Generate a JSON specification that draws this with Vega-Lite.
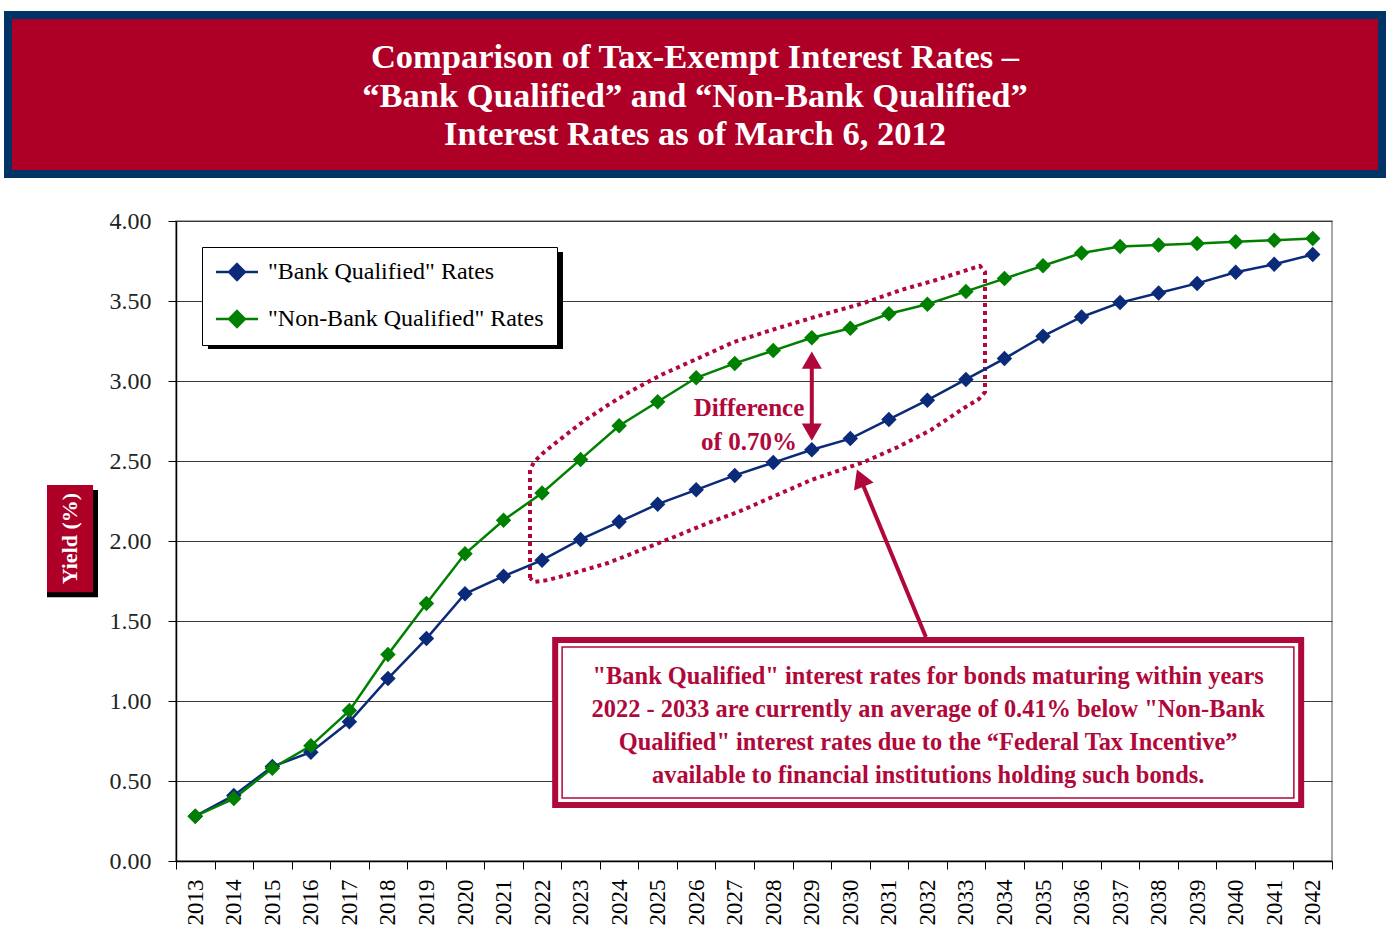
{
  "$schema": "https://vega.github.io/schema/vega-lite/v6.json",
  "background": "white",
  "padding": {"left": 4, "top": 11, "right": 0, "bottom": 0},
  "align": "each",
  "spacing": 30,
  "resolve": {"legend": {"color": "independent"}},
  "config": {"view": {"stroke": null}, "font": "Liberation Serif"},
  "datasets": {
    "rates": [
      {"year": 2013, "series": "\"Bank Qualified\" Rates", "value": 0.28},
      {"year": 2014, "series": "\"Bank Qualified\" Rates", "value": 0.41},
      {"year": 2015, "series": "\"Bank Qualified\" Rates", "value": 0.59},
      {"year": 2016, "series": "\"Bank Qualified\" Rates", "value": 0.68},
      {"year": 2017, "series": "\"Bank Qualified\" Rates", "value": 0.87},
      {"year": 2018, "series": "\"Bank Qualified\" Rates", "value": 1.14},
      {"year": 2019, "series": "\"Bank Qualified\" Rates", "value": 1.39},
      {"year": 2020, "series": "\"Bank Qualified\" Rates", "value": 1.67},
      {"year": 2021, "series": "\"Bank Qualified\" Rates", "value": 1.78},
      {"year": 2022, "series": "\"Bank Qualified\" Rates", "value": 1.88},
      {"year": 2023, "series": "\"Bank Qualified\" Rates", "value": 2.01},
      {"year": 2024, "series": "\"Bank Qualified\" Rates", "value": 2.12},
      {"year": 2025, "series": "\"Bank Qualified\" Rates", "value": 2.23},
      {"year": 2026, "series": "\"Bank Qualified\" Rates", "value": 2.32},
      {"year": 2027, "series": "\"Bank Qualified\" Rates", "value": 2.41},
      {"year": 2028, "series": "\"Bank Qualified\" Rates", "value": 2.49},
      {"year": 2029, "series": "\"Bank Qualified\" Rates", "value": 2.57},
      {"year": 2030, "series": "\"Bank Qualified\" Rates", "value": 2.64},
      {"year": 2031, "series": "\"Bank Qualified\" Rates", "value": 2.76},
      {"year": 2032, "series": "\"Bank Qualified\" Rates", "value": 2.88},
      {"year": 2033, "series": "\"Bank Qualified\" Rates", "value": 3.01},
      {"year": 2034, "series": "\"Bank Qualified\" Rates", "value": 3.14},
      {"year": 2035, "series": "\"Bank Qualified\" Rates", "value": 3.28},
      {"year": 2036, "series": "\"Bank Qualified\" Rates", "value": 3.40},
      {"year": 2037, "series": "\"Bank Qualified\" Rates", "value": 3.49},
      {"year": 2038, "series": "\"Bank Qualified\" Rates", "value": 3.55},
      {"year": 2039, "series": "\"Bank Qualified\" Rates", "value": 3.61},
      {"year": 2040, "series": "\"Bank Qualified\" Rates", "value": 3.68},
      {"year": 2041, "series": "\"Bank Qualified\" Rates", "value": 3.73},
      {"year": 2042, "series": "\"Bank Qualified\" Rates", "value": 3.79},
      {"year": 2013, "series": "\"Non-Bank Qualified\" Rates", "value": 0.28},
      {"year": 2014, "series": "\"Non-Bank Qualified\" Rates", "value": 0.39},
      {"year": 2015, "series": "\"Non-Bank Qualified\" Rates", "value": 0.58},
      {"year": 2016, "series": "\"Non-Bank Qualified\" Rates", "value": 0.72},
      {"year": 2017, "series": "\"Non-Bank Qualified\" Rates", "value": 0.94},
      {"year": 2018, "series": "\"Non-Bank Qualified\" Rates", "value": 1.29},
      {"year": 2019, "series": "\"Non-Bank Qualified\" Rates", "value": 1.61},
      {"year": 2020, "series": "\"Non-Bank Qualified\" Rates", "value": 1.92},
      {"year": 2021, "series": "\"Non-Bank Qualified\" Rates", "value": 2.13},
      {"year": 2022, "series": "\"Non-Bank Qualified\" Rates", "value": 2.30},
      {"year": 2023, "series": "\"Non-Bank Qualified\" Rates", "value": 2.51},
      {"year": 2024, "series": "\"Non-Bank Qualified\" Rates", "value": 2.72},
      {"year": 2025, "series": "\"Non-Bank Qualified\" Rates", "value": 2.87},
      {"year": 2026, "series": "\"Non-Bank Qualified\" Rates", "value": 3.02},
      {"year": 2027, "series": "\"Non-Bank Qualified\" Rates", "value": 3.11},
      {"year": 2028, "series": "\"Non-Bank Qualified\" Rates", "value": 3.19},
      {"year": 2029, "series": "\"Non-Bank Qualified\" Rates", "value": 3.27},
      {"year": 2030, "series": "\"Non-Bank Qualified\" Rates", "value": 3.33},
      {"year": 2031, "series": "\"Non-Bank Qualified\" Rates", "value": 3.42},
      {"year": 2032, "series": "\"Non-Bank Qualified\" Rates", "value": 3.48},
      {"year": 2033, "series": "\"Non-Bank Qualified\" Rates", "value": 3.56},
      {"year": 2034, "series": "\"Non-Bank Qualified\" Rates", "value": 3.64},
      {"year": 2035, "series": "\"Non-Bank Qualified\" Rates", "value": 3.72},
      {"year": 2036, "series": "\"Non-Bank Qualified\" Rates", "value": 3.80},
      {"year": 2037, "series": "\"Non-Bank Qualified\" Rates", "value": 3.84},
      {"year": 2038, "series": "\"Non-Bank Qualified\" Rates", "value": 3.85},
      {"year": 2039, "series": "\"Non-Bank Qualified\" Rates", "value": 3.86},
      {"year": 2040, "series": "\"Non-Bank Qualified\" Rates", "value": 3.87},
      {"year": 2041, "series": "\"Non-Bank Qualified\" Rates", "value": 3.88},
      {"year": 2042, "series": "\"Non-Bank Qualified\" Rates", "value": 3.89}
    ],
    "region": [
      {"o": 1, "xq": 2021.687, "value": 1.769},
      {"o": 2, "xq": 2021.687, "value": 2.444},
      {"o": 3, "xq": 2021.791, "value": 2.494},
      {"o": 4, "xq": 2021.998, "value": 2.544},
      {"o": 5, "xq": 2022.284, "value": 2.6},
      {"o": 6, "xq": 2022.647, "value": 2.669},
      {"o": 7, "xq": 2023.088, "value": 2.75},
      {"o": 8, "xq": 2023.711, "value": 2.85},
      {"o": 9, "xq": 2024.308, "value": 2.9375},
      {"o": 10, "xq": 2025.087, "value": 3.0375},
      {"o": 11, "xq": 2026.125, "value": 3.15},
      {"o": 12, "xq": 2026.981, "value": 3.244},
      {"o": 13, "xq": 2028.123, "value": 3.331},
      {"o": 14, "xq": 2029.161, "value": 3.406},
      {"o": 15, "xq": 2030.355, "value": 3.4875},
      {"o": 16, "xq": 2031.315, "value": 3.569},
      {"o": 17, "xq": 2032.223, "value": 3.631},
      {"o": 18, "xq": 2033.184, "value": 3.706},
      {"o": 19, "xq": 2033.365, "value": 3.719},
      {"o": 20, "xq": 2033.495, "value": 3.681},
      {"o": 21, "xq": 2033.495, "value": 2.931},
      {"o": 22, "xq": 2033.339, "value": 2.8875},
      {"o": 23, "xq": 2032.95, "value": 2.831},
      {"o": 24, "xq": 2032.093, "value": 2.694},
      {"o": 25, "xq": 2031.237, "value": 2.5875},
      {"o": 26, "xq": 2030.355, "value": 2.494},
      {"o": 27, "xq": 2028.979, "value": 2.381},
      {"o": 28, "xq": 2027.085, "value": 2.181},
      {"o": 29, "xq": 2026.306, "value": 2.1125},
      {"o": 30, "xq": 2025.424, "value": 2.025},
      {"o": 31, "xq": 2024.568, "value": 1.944},
      {"o": 32, "xq": 2023.711, "value": 1.8625},
      {"o": 33, "xq": 2022.829, "value": 1.8},
      {"o": 34, "xq": 2022.154, "value": 1.756},
      {"o": 35, "xq": 2021.791, "value": 1.744},
      {"o": 36, "xq": 2021.687, "value": 1.769}
    ]
  },
  "vconcat": [
    {
      "width": 1374,
      "height": 159,
      "view": {"fill": "#AE0026", "stroke": "#003366", "strokeWidth": 8},
      "data": {"values": [{"t": "Comparison of Tax-Exempt Interest Rates –\n“Bank Qualified” and “Non-Bank Qualified”\nInterest Rates as of March 6, 2012"}]},
      "mark": {"type": "text", "lineBreak": "\n", "font": "Liberation Serif", "fontWeight": "bold", "fontSize": 34.5, "color": "white", "lineHeight": 38.5, "baseline": "middle", "align": "center", "dy": -36.5},
      "encoding": {"text": {"field": "t"}}
    },
    {
      "align": "each",
      "spacing": 10,
      "resolve": {"legend": {"color": "independent"}},
      "hconcat": [
        {
          "width": 29,
          "height": 640,
          "data": {"values": []},
          "mark": "point"
        },
        {
          "width": 46,
          "height": 640,
          "data": {"values": [{"label": "Yield (%)", "lo": 1.68, "hi": 2.35, "mid": 2.015}]},
          "layer": [
            {
              "mark": {"type": "rect", "color": "#000", "xOffset": 5, "x2Offset": 5, "yOffset": 5, "y2Offset": 5},
              "encoding": {
                "y": {"field": "lo", "type": "quantitative", "scale": {"domain": [0, 4], "nice": false}, "axis": null},
                "y2": {"field": "hi"}
              }
            },
            {
              "mark": {"type": "rect", "color": "#AE0026"},
              "encoding": {
                "y": {"field": "lo", "type": "quantitative"},
                "y2": {"field": "hi"}
              }
            },
            {
              "mark": {"type": "text", "angle": 270, "font": "Liberation Serif", "fontWeight": "bold", "fontSize": 22, "color": "white", "align": "center", "baseline": "middle"},
              "encoding": {
                "y": {"field": "mid", "type": "quantitative"},
                "text": {"field": "label"}
              }
            }
          ]
        },
        {
          "width": 1156,
          "height": 640,
          "view": {"stroke": "#8c8c8c", "strokeWidth": 1.5, "fill": "white"},
          "resolve": {"scale": {"x": "independent"}},
          "layer": [
            {
              "data": {"name": "region"},
              "mark": {"type": "line", "color": "#B0083A", "strokeWidth": 4, "strokeDash": [4, 4]},
              "encoding": {
                "x": {"field": "xq", "type": "quantitative", "scale": {"domain": [2012.5, 2042.5], "nice": false, "zero": false}, "axis": null},
                "y": {"field": "value", "type": "quantitative"},
                "order": {"field": "o", "type": "quantitative"}
              }
            },
            {
              "data": {"name": "rates"},
              "mark": {"type": "line", "strokeWidth": 2.5},
              "encoding": {
                "x": {"field": "year", "type": "ordinal", "scale": {"type": "band", "paddingInner": 0, "paddingOuter": 0},
                  "axis": {"title": null, "tickBand": "extent", "labelAngle": 270, "labelFont": "Liberation Serif", "labelFontSize": 23, "labelColor": "#000", "tickSize": 8, "tickColor": "#000", "domainColor": "#000", "domainWidth": 1.5, "labelPadding": 10, "grid": false}},
                "y": {"field": "value", "type": "quantitative", "scale": {"domain": [0, 4], "nice": false},
                  "axis": {"title": null, "values": [0, 0.5, 1, 1.5, 2, 2.5, 3, 3.5, 4], "format": ".2f", "labelFont": "Liberation Serif", "labelFontSize": 24, "labelColor": "#222", "tickSize": 8, "tickColor": "#000", "domainColor": "#000", "domainWidth": 1.5, "gridColor": "#3a3a3a", "gridWidth": 1, "labelPadding": 17}},
                "color": {"field": "series", "type": "nominal",
                  "scale": {"domain": ["\"Bank Qualified\" Rates", "\"Non-Bank Qualified\" Rates"], "range": ["#0B2B7A", "#008000"]},
                  "legend": {"title": null, "orient": "none", "legendX": 26, "legendY": 26, "fillColor": "white", "strokeColor": "#000", "padding": 13, "labelFont": "Liberation Serif", "labelFontSize": 24, "labelColor": "#000", "rowPadding": 21, "symbolType": "M-2,0L2,0M0,-0.75L0.75,0L0,0.75L-0.75,0Z", "symbolSize": 441, "symbolStrokeWidth": 2.5, "labelOffset": 19, "symbolOffset": 10, "labelLimit": 400}}
              }
            },
            {
              "data": {"name": "rates"},
              "mark": {"type": "point", "shape": "diamond", "filled": true, "size": 240, "opacity": 1},
              "encoding": {
                "x": {"field": "year", "type": "ordinal", "scale": {"type": "band", "paddingInner": 0, "paddingOuter": 0}, "axis": null},
                "y": {"field": "value", "type": "quantitative"},
                "color": {"field": "series", "type": "nominal"}
              }
            },
            {
              "data": {"values": [{"xq": 2029, "value": 3.12, "value2": 2.7}]},
              "mark": {"type": "rule", "color": "#B0083A", "strokeWidth": 4},
              "encoding": {
                "x": {"field": "xq", "type": "quantitative", "scale": {"domain": [2012.5, 2042.5], "nice": false, "zero": false}, "axis": null},
                "y": {"field": "value", "type": "quantitative"},
                "y2": {"field": "value2"}
              }
            },
            {
              "data": {"values": [{"xq": 2029, "value": 3.13}]},
              "mark": {"type": "point", "shape": "triangle-up", "filled": true, "size": 400, "color": "#B0083A", "opacity": 1},
              "encoding": {
                "x": {"field": "xq", "type": "quantitative", "scale": {"domain": [2012.5, 2042.5], "nice": false, "zero": false}, "axis": null},
                "y": {"field": "value", "type": "quantitative"}
              }
            },
            {
              "data": {"values": [{"xq": 2029, "value": 2.68}]},
              "mark": {"type": "point", "shape": "triangle-down", "filled": true, "size": 400, "color": "#B0083A", "opacity": 1},
              "encoding": {
                "x": {"field": "xq", "type": "quantitative", "scale": {"domain": [2012.5, 2042.5], "nice": false, "zero": false}, "axis": null},
                "y": {"field": "value", "type": "quantitative"}
              }
            },
            {
              "data": {"values": [{"xq": 2031.96, "value": 1.4, "xq2": 2030.26, "value2": 2.39}]},
              "mark": {"type": "rule", "color": "#B0083A", "strokeWidth": 4},
              "encoding": {
                "x": {"field": "xq", "type": "quantitative", "scale": {"domain": [2012.5, 2042.5], "nice": false, "zero": false}, "axis": null},
                "x2": {"field": "xq2"},
                "y": {"field": "value", "type": "quantitative"},
                "y2": {"field": "value2"}
              }
            },
            {
              "data": {"values": [{"xq": 2030.26, "value": 2.394}]},
              "mark": {"type": "point", "shape": "triangle-up", "filled": true, "size": 450, "angle": 338, "color": "#B0083A", "opacity": 1},
              "encoding": {
                "x": {"field": "xq", "type": "quantitative", "scale": {"domain": [2012.5, 2042.5], "nice": false, "zero": false}, "axis": null},
                "y": {"field": "value", "type": "quantitative"}
              }
            },
            {
              "data": {"values": [{"xq": 2022.34, "xq2": 2041.7, "value": 1.381, "value2": 0.35}]},
              "mark": {"type": "rect", "fill": "white", "stroke": "#B0083A", "strokeWidth": 6},
              "encoding": {
                "x": {"field": "xq", "type": "quantitative", "scale": {"domain": [2012.5, 2042.5], "nice": false, "zero": false}, "axis": null},
                "x2": {"field": "xq2"},
                "y": {"field": "value", "type": "quantitative"},
                "y2": {"field": "value2"}
              }
            },
            {
              "data": {"values": [{"xq": 2022.52, "xq2": 2041.51, "value": 1.3375, "value2": 0.394}]},
              "mark": {"type": "rect", "fill": null, "filled": false, "stroke": "#B0083A", "strokeWidth": 1.5},
              "encoding": {
                "x": {"field": "xq", "type": "quantitative", "scale": {"domain": [2012.5, 2042.5], "nice": false, "zero": false}, "axis": null},
                "x2": {"field": "xq2"},
                "y": {"field": "value", "type": "quantitative"},
                "y2": {"field": "value2"}
              }
            },
            {
              "data": {"values": [{"xq": 2032.02, "value": 1.15, "t": "\"Bank Qualified\"  interest rates for bonds maturing within years\n2022 - 2033 are currently an average of 0.41% below \"Non-Bank\nQualified\" interest rates due to the “Federal Tax Incentive”\navailable to financial institutions holding such bonds."}]},
              "mark": {"type": "text", "lineBreak": "\n", "font": "Liberation Serif", "fontWeight": "bold", "fontSize": 24.4, "lineHeight": 33, "color": "#B0083A", "align": "center", "baseline": "middle"},
              "encoding": {
                "x": {"field": "xq", "type": "quantitative", "scale": {"domain": [2012.5, 2042.5], "nice": false, "zero": false}, "axis": null},
                "y": {"field": "value", "type": "quantitative"},
                "text": {"field": "t"}
              }
            },
            {
              "data": {"values": [{"xq": 2027.37, "value": 2.831, "t": "Difference\nof 0.70%"}]},
              "mark": {"type": "text", "lineBreak": "\n", "font": "Liberation Serif", "fontWeight": "bold", "fontSize": 25, "lineHeight": 33.5, "color": "#B0083A", "align": "center", "baseline": "middle"},
              "encoding": {
                "x": {"field": "xq", "type": "quantitative", "scale": {"domain": [2012.5, 2042.5], "nice": false, "zero": false}, "axis": null},
                "y": {"field": "value", "type": "quantitative"},
                "text": {"field": "t"}
              }
            },
            {
              "data": {"values": [{"xq": 2013.33, "xq2": 2022.543, "value": 3.806, "value2": 3.2}]},
              "mark": {"type": "rect", "fill": "#000"},
              "encoding": {
                "x": {"field": "xq", "type": "quantitative", "scale": {"domain": [2012.5, 2042.5], "nice": false, "zero": false}, "axis": null},
                "x2": {"field": "xq2"},
                "y": {"field": "value", "type": "quantitative"},
                "y2": {"field": "value2"}
              }
            }
          ]
        }
      ]
    }
  ]
}
